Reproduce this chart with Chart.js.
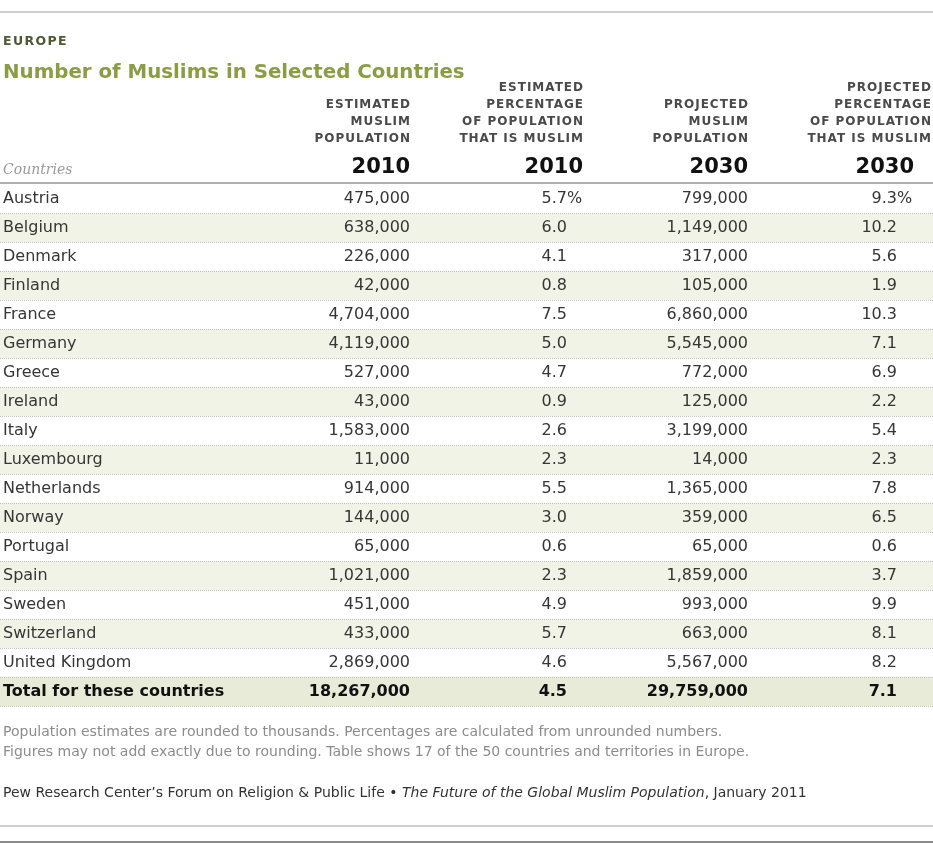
<!DOCTYPE html>
<html>
<head>
<meta charset="utf-8">
<script src="https://cdn.jsdelivr.net/npm/chart.js@4/dist/chart.umd.min.js"></script>
<style>
  body { margin: 0; background: #fff; }
  #wrap { width: 933px; height: 843px; }
</style>
</head>
<body>
<div id="wrap"><canvas id="tabela"></canvas></div>
<script>
// Table data
const countries = ['Austria', 'Belgium', 'Denmark', 'Finland', 'France', 'Germany', 'Greece',
    'Ireland', 'Italy', 'Luxembourg', 'Netherlands', 'Norway', 'Portugal', 'Spain', 'Sweden',
    'Switzerland', 'United Kingdom'];
const muslims2010 = [475000, 638000, 226000, 42000, 4704000, 4119000, 527000, 43000, 1583000,
    11000, 914000, 144000, 65000, 1021000, 451000, 433000, 2869000];
const pct2010 = [5.7, 6.0, 4.1, 0.8, 7.5, 5.0, 4.7, 0.9, 2.6, 2.3, 5.5, 3.0, 0.6, 2.3, 4.9, 5.7, 4.6];
const muslims2030 = [799000, 1149000, 317000, 105000, 6860000, 5545000, 772000, 125000, 3199000,
    14000, 1365000, 359000, 65000, 1859000, 993000, 663000, 5567000];
const pct2030 = [9.3, 10.2, 5.6, 1.9, 10.3, 7.1, 6.9, 2.2, 5.4, 2.3, 7.8, 6.5, 0.6, 3.7, 9.9, 8.1, 8.2];
const totalLabel = 'Total for these countries';
const totals = [18267000, 4.5, 29759000, 7.1];
const years = ['2010', '2010', '2030', '2030'];
const headers = [
    ['ESTIMATED', 'MUSLIM', 'POPULATION'],
    ['ESTIMATED', 'PERCENTAGE', 'OF POPULATION', 'THAT IS MUSLIM'],
    ['PROJECTED', 'MUSLIM', 'POPULATION'],
    ['PROJECTED', 'PERCENTAGE', 'OF POPULATION', 'THAT IS MUSLIM']
];

const rowLabels = countries.concat([totalLabel]);
const columns = [muslims2010, pct2010, muslims2030, pct2030];
const isPct = [false, true, false, true];

// layout (pixels, x axis runs 0..933)
const FONT = "'DejaVu Sans', Verdana, sans-serif";
const numRight = [410, 567, 748, 897];
const headRight = [410, 583, 748, 931];
const yearRight = [410, 583, 748, 914];

function fmt(v, pct) {
    return pct ? v.toFixed(1) : v.toLocaleString('en-US');
}

function txt(ctx, s, x, y, font, color, align, spacing) {
    ctx.font = font;
    ctx.fillStyle = color;
    ctx.textAlign = align || 'left';
    ctx.letterSpacing = (spacing || 0) + 'px';
    ctx.fillText(s, align === 'right' ? x + (spacing || 0) : x, y);
    ctx.letterSpacing = '0px';
}

function hline(ctx, y, color, width, dash) {
    ctx.save();
    ctx.strokeStyle = color;
    ctx.lineWidth = width;
    ctx.setLineDash(dash || []);
    ctx.beginPath();
    ctx.moveTo(0, y);
    ctx.lineTo(933, y);
    ctx.stroke();
    ctx.restore();
}

const tablePlugin = {
    id: 'tablePlugin',
    afterDatasetsDraw(chart) {
        const ctx = chart.ctx;
        const x = chart.scales.x;
        const y = chart.scales.y;
        const area = chart.chartArea;
        const step = (area.bottom - area.top) / rowLabels.length;
        ctx.save();
        ctx.textBaseline = 'middle';

        // top and bottom rules
        hline(ctx, 12, '#cfcfcf', 2);
        hline(ctx, 826, '#cfcfcf', 2);
        hline(ctx, 842, '#8a8a8a', 2);

        txt(ctx, 'EUROPE', 3, 42, 'bold 12.5px ' + FONT, '#4d5a34', 'left', 1.4);
        txt(ctx, 'Number of Muslims in Selected Countries', 3, 73, 'bold 19.8px ' + FONT, '#8b9c45');

        // column headers
        headers.forEach((lines, j) => {
            const start = 139 - (lines.length - 1) * 17;
            lines.forEach((l, k) => {
                txt(ctx, l, x.getPixelForValue(headRight[j]), start + k * 17,
                    'bold 12px ' + FONT, '#4a4a4a', 'right', 1);
            });
            txt(ctx, years[j], x.getPixelForValue(yearRight[j]), 168, 'bold 21px ' + FONT, '#111', 'right');
        });
        txt(ctx, 'Countries', 3, 170, 'italic 14px "DejaVu Serif", Georgia, serif', '#9a9a9a');

        // header rule
        hline(ctx, area.top - 1, '#b0b0b0', 2);

        // cells
        rowLabels.forEach((name, i) => {
            const cy = y.getPixelForValue(i);
            const total = i === countries.length;
            const font = (total ? 'bold ' : '') + '16px ' + FONT;
            const color = total ? '#111' : '#363636';
            txt(ctx, name, 3, cy, font, color);
            columns.forEach((col, j) => {
                const v = total ? totals[j] : col[i];
                const rx = x.getPixelForValue(numRight[j]);
                txt(ctx, fmt(v, isPct[j]), rx, cy, font, color, 'right');
                if (isPct[j] && i === 0) txt(ctx, '%', rx, cy, font, color, 'left');
            });
            hline(ctx, Math.round(cy + step / 2) + 0.5, '#c4c4c4', 1, [1, 1]);
        });

        // notes
        txt(ctx, 'Population estimates are rounded to thousands. Percentages are calculated from unrounded numbers.',
            3, 732, '14px ' + FONT, '#8c8c8c');
        txt(ctx, 'Figures may not add exactly due to rounding. Table shows 17 of the 50 countries and territories in Europe.',
            3, 752, '14px ' + FONT, '#8c8c8c');

        let sx = 3;
        const parts = [
            ['Pew Research Center\u2019s Forum on Religion & Public Life \u2022 ', '14px '],
            ['The Future of the Global Muslim Population', 'italic 14px '],
            [', January 2011', '14px ']
        ];
        parts.forEach(p => {
            txt(ctx, p[0], sx, 793, p[1] + FONT, '#333');
            ctx.font = p[1] + FONT;
            sx += ctx.measureText(p[0]).width;
        });
        ctx.restore();
    }
};

// zebra shading as floating horizontal bars
const shade = rowLabels.map((r, i) => (i % 2 === 1 || i === countries.length) ? [0, 933] : null);
const shadeColors = rowLabels.map((r, i) => i === countries.length ? '#e8ebd8' : '#f1f3e6');

new Chart(document.getElementById('tabela'), {
    type: 'bar',
    data: {
        labels: rowLabels,
        datasets: [{
            data: shade,
            backgroundColor: shadeColors,
            borderWidth: 0,
            barPercentage: 1,
            categoryPercentage: 1
        }]
    },
    options: {
        indexAxis: 'y',
        responsive: true,
        maintainAspectRatio: false,
        animation: false,
        layout: { padding: { top: 184, bottom: 137, left: 0, right: 0 } },
        scales: {
            x: { type: 'linear', min: 0, max: 933, display: false },
            y: { display: false }
        },
        plugins: {
            legend: { display: false },
            tooltip: { enabled: false }
        }
    },
    plugins: [tablePlugin]
});
</script>
</body>
</html>
